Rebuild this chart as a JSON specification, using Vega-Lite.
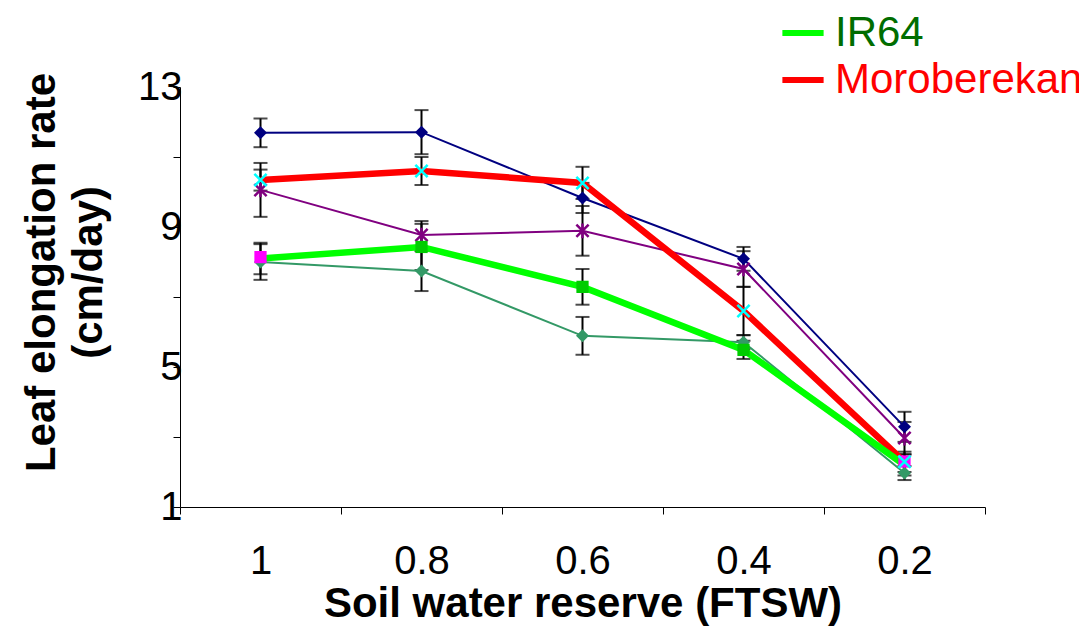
{
  "$schema": "https://vega.github.io/schema/vega-lite/v6.json",
  "autosize": "none",
  "width": 805,
  "height": 420,
  "padding": {"left": 180, "top": 87, "right": 94, "bottom": 124},
  "background": "white",
  "config": {
    "view": {"stroke": null},
    "font": "Liberation Sans",
    "axis": {"domainColor": "black", "tickColor": "black", "labelColor": "black", "titleColor": "black", "grid": false, "domainWidth": 1, "tickWidth": 1}
  },
  "datasets": {
    "main": [
      {"series": "S1", "ftsw": "1", "rate": 11.69, "err": 0.41},
      {"series": "S1", "ftsw": "0.8", "rate": 11.71, "err": 0.63},
      {"series": "S1", "ftsw": "0.6", "rate": 9.83, "err": 0.43},
      {"series": "S1", "ftsw": "0.4", "rate": 8.09, "err": 0.34},
      {"series": "S1", "ftsw": "0.2", "rate": 3.29, "err": 0.43},
      {"series": "Moroberekan", "ftsw": "1", "rate": 10.34, "err": 0.3},
      {"series": "Moroberekan", "ftsw": "0.8", "rate": 10.6, "err": 0.4},
      {"series": "Moroberekan", "ftsw": "0.6", "rate": 10.26, "err": 0.46},
      {"series": "Moroberekan", "ftsw": "0.4", "rate": 6.6, "err": 0.69},
      {"series": "Moroberekan", "ftsw": "0.2", "rate": 2.29, "err": 0.29},
      {"series": "S3", "ftsw": "1", "rate": 10.06, "err": 0.77},
      {"series": "S3", "ftsw": "0.8", "rate": 8.77, "err": 0.4},
      {"series": "S3", "ftsw": "0.6", "rate": 8.89, "err": 0.71},
      {"series": "S3", "ftsw": "0.4", "rate": 7.8, "err": 0.51},
      {"series": "S3", "ftsw": "0.2", "rate": 2.97, "err": 0.46},
      {"series": "IR64", "ftsw": "1", "rate": 8.1, "err": 0.45},
      {"series": "IR64", "ftsw": "0.8", "rate": 8.43, "err": 0.66},
      {"series": "IR64", "ftsw": "0.6", "rate": 7.29, "err": 0.51},
      {"series": "IR64", "ftsw": "0.4", "rate": 5.49, "err": 0.26},
      {"series": "IR64", "ftsw": "0.2", "rate": 2.2, "err": 0.3},
      {"series": "S5", "ftsw": "1", "rate": 8.0, "err": 0.51},
      {"series": "S5", "ftsw": "0.8", "rate": 7.74, "err": 0.57},
      {"series": "S5", "ftsw": "0.6", "rate": 5.89, "err": 0.54},
      {"series": "S5", "ftsw": "0.4", "rate": 5.71, "err": 0.2},
      {"series": "S5", "ftsw": "0.2", "rate": 1.97, "err": 0.2}
    ],
    "magenta": [
      {"ftsw": "1", "rate": 8.14},
      {"ftsw": "0.2", "rate": 2.3}
    ]
  },
  "data": {"name": "main"},
  "encoding": {
    "x": {
      "field": "ftsw", "type": "ordinal", "sort": ["1", "0.8", "0.6", "0.4", "0.2"], "bandPosition": 0.5,
      "scale": {"type": "band", "paddingInner": 0, "paddingOuter": 0},
      "axis": {"title": "Soil water reserve (FTSW)", "labelAngle": 0, "tickBand": "extent", "tickSize": 7, "labelPadding": 27, "labelFontSize": 40, "titleFontSize": 42, "titleFontWeight": "bold", "titlePadding": 2, "labelBaseline": "top"}
    },
    "y": {
      "field": "rate", "type": "quantitative",
      "scale": {"domain": [1, 13], "nice": false, "zero": false},
      "axis": {"title": ["Leaf elongation rate", "(cm/day)"], "values": [1, 3, 5, 7, 9, 11, 13], "labelExpr": "(datum.value - 1) % 4 === 0 ? datum.label : ''", "tickSize": 7, "labelPadding": -9, "labelFontSize": 40, "titleFontSize": 42, "titleFontWeight": "bold", "titleLineHeight": 47, "titlePadding": 27, "titleY": 185}
    }
  },
  "layer": [
    {
      "mark": {"type": "errorbar", "color": "black", "thickness": 2, "ticks": {"size": 14, "thickness": 2, "color": "black"}},
      "encoding": {"yError": {"field": "err"}}
    },
    {
      "transform": [{"filter": "datum.series === 'S1' || datum.series === 'S3' || datum.series === 'S5'"}],
      "mark": {"type": "line", "strokeWidth": 2},
      "encoding": {
        "color": {"field": "series", "type": "nominal",
          "scale": {"domain": ["S1", "IR64", "S3", "Moroberekan", "S5"], "range": ["#000080", "#00ff00", "#800080", "#ff0000", "#339966"]},
          "legend": {"values": ["IR64", "Moroberekan"], "title": null, "orient": "none", "legendX": 599, "legendY": -78, "symbolType": "stroke", "symbolStrokeWidth": 6, "symbolSize": 1700, "labelFontSize": 42, "labelOffset": 8, "rowPadding": 2, "labelLimit": 400,
            "encode": {"labels": {"update": {"fill": {"signal": "datum.value === 'IR64' ? '#006d00' : '#ff0000'"}}}}}
        }
      }
    },
    {
      "transform": [{"filter": "datum.series === 'IR64' || datum.series === 'Moroberekan'"}],
      "mark": {"type": "line", "strokeWidth": 6.5},
      "encoding": {"color": {"field": "series", "type": "nominal"}}
    },
    {
      "transform": [{"filter": "datum.series === 'S5'"}],
      "mark": {"type": "point", "shape": "diamond", "filled": true, "size": 170, "color": "#339966", "opacity": 1}
    },
    {
      "transform": [{"filter": "datum.series === 'S3'"}],
      "mark": {"type": "point", "shape": "M-1,-1L1,1M-1,1L1,-1M0,-1.2L0,1.2", "filled": false, "size": 150, "color": "#800080", "strokeWidth": 2.5, "opacity": 1}
    },
    {
      "transform": [{"filter": "datum.series === 'S1'"}],
      "mark": {"type": "point", "shape": "diamond", "filled": true, "size": 170, "color": "#000080", "opacity": 1}
    },
    {
      "data": {"name": "magenta"},
      "mark": {"type": "point", "shape": "square", "filled": true, "size": 150, "color": "#ff00ff", "opacity": 1}
    },
    {
      "transform": [{"filter": "datum.series === 'IR64' && datum.ftsw !== '1' && datum.ftsw !== '0.2'"}],
      "mark": {"type": "point", "shape": "square", "filled": true, "size": 150, "color": "#00cc00", "opacity": 1}
    },
    {
      "transform": [{"filter": "datum.series === 'Moroberekan'"}],
      "mark": {"type": "point", "shape": "M-1,-1L1,1M-1,1L1,-1", "filled": false, "size": 150, "color": "#00ffff", "strokeWidth": 2.5, "opacity": 1}
    }
  ]
}
